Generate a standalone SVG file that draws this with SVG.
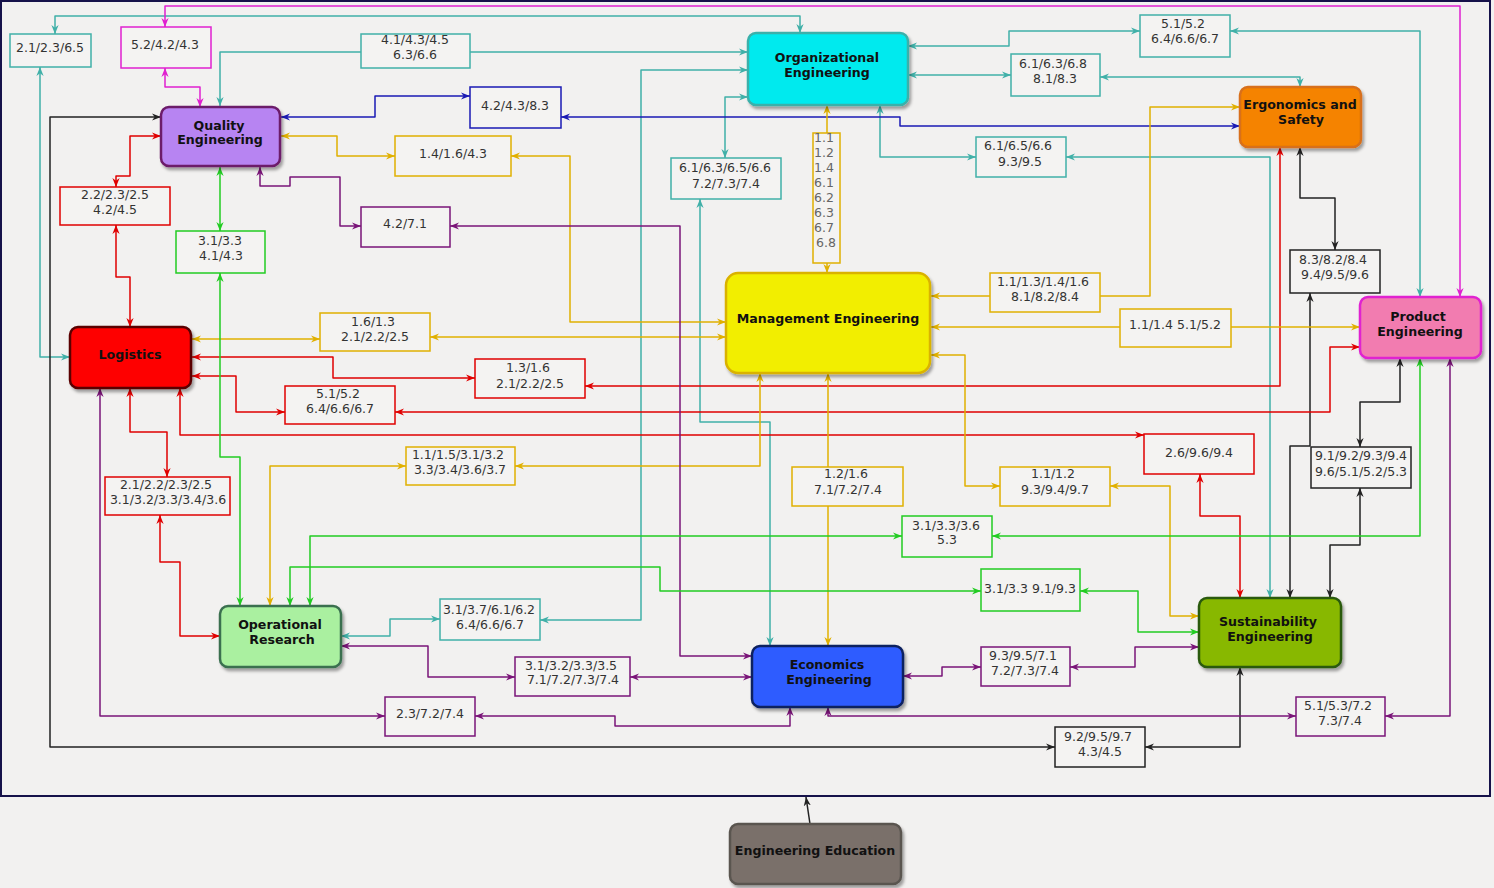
<svg xmlns="http://www.w3.org/2000/svg" width="1494" height="888" viewBox="0 0 1494 888">
<style>
.c{fill:none;stroke-width:1.5;stroke-linejoin:round}
.teal{stroke:#40b0a8;marker-start:url(#m-teal);marker-end:url(#m-teal)}
.mag{stroke:#e020d0;marker-start:url(#m-mag);marker-end:url(#m-mag)}
.navy{stroke:#1a1ab4;marker-start:url(#m-navy);marker-end:url(#m-navy)}
.blk{stroke:#222;marker-start:url(#m-blk);marker-end:url(#m-blk)}
.red{stroke:#e00000;marker-start:url(#m-red);marker-end:url(#m-red)}
.gold{stroke:#e0b000;marker-start:url(#m-gold);marker-end:url(#m-gold)}
.pur{stroke:#7a1478;marker-start:url(#m-pur);marker-end:url(#m-pur)}
.grn{stroke:#22cc22;marker-start:url(#m-grn);marker-end:url(#m-grn)}
.node{stroke-width:2.5;filter:url(#sh)}
.nt{font-family:"DejaVu Sans","Liberation Sans",sans-serif;font-weight:bold;font-size:12.6px;fill:#111;text-anchor:middle}
.lb{fill:#f4f3f2;stroke-width:1.5}
.lt{font-family:"DejaVu Sans","Liberation Sans",sans-serif;font-size:12.5px;fill:#333;text-anchor:middle}
.bt{stroke:#40b0a8}.bm{stroke:#e020d0}.bn{stroke:#1a1ab4}.bk{stroke:#222}.br{stroke:#e00000}.bg{stroke:#e0b000}.bp{stroke:#7a1478}.bgr{stroke:#22cc22}
</style>
<defs>
<filter id="sh" x="-10%" y="-10%" width="130%" height="140%"><feDropShadow dx="2" dy="3" stdDeviation="1.5" flood-color="#000" flood-opacity="0.35"/></filter>
<marker id="m-teal" viewBox="0 0 10 10" refX="10" refY="5" markerWidth="9" markerHeight="9" markerUnits="userSpaceOnUse" orient="auto-start-reverse"><path d="M0,1 L10,5 L0,9 L3,5 z" fill="#40b0a8"/></marker>
<marker id="m-mag" viewBox="0 0 10 10" refX="10" refY="5" markerWidth="9" markerHeight="9" markerUnits="userSpaceOnUse" orient="auto-start-reverse"><path d="M0,1 L10,5 L0,9 L3,5 z" fill="#e020d0"/></marker>
<marker id="m-navy" viewBox="0 0 10 10" refX="10" refY="5" markerWidth="9" markerHeight="9" markerUnits="userSpaceOnUse" orient="auto-start-reverse"><path d="M0,1 L10,5 L0,9 L3,5 z" fill="#1a1ab4"/></marker>
<marker id="m-blk" viewBox="0 0 10 10" refX="10" refY="5" markerWidth="9" markerHeight="9" markerUnits="userSpaceOnUse" orient="auto-start-reverse"><path d="M0,1 L10,5 L0,9 L3,5 z" fill="#222"/></marker>
<marker id="m-red" viewBox="0 0 10 10" refX="10" refY="5" markerWidth="9" markerHeight="9" markerUnits="userSpaceOnUse" orient="auto-start-reverse"><path d="M0,1 L10,5 L0,9 L3,5 z" fill="#e00000"/></marker>
<marker id="m-gold" viewBox="0 0 10 10" refX="10" refY="5" markerWidth="9" markerHeight="9" markerUnits="userSpaceOnUse" orient="auto-start-reverse"><path d="M0,1 L10,5 L0,9 L3,5 z" fill="#e0b000"/></marker>
<marker id="m-pur" viewBox="0 0 10 10" refX="10" refY="5" markerWidth="9" markerHeight="9" markerUnits="userSpaceOnUse" orient="auto-start-reverse"><path d="M0,1 L10,5 L0,9 L3,5 z" fill="#7a1478"/></marker>
<marker id="m-grn" viewBox="0 0 10 10" refX="10" refY="5" markerWidth="9" markerHeight="9" markerUnits="userSpaceOnUse" orient="auto-start-reverse"><path d="M0,1 L10,5 L0,9 L3,5 z" fill="#22cc22"/></marker>
</defs>
<rect x="0" y="0" width="1494" height="888" fill="#f2f1f0"/>
<rect id="frame" x="1" y="1" width="1489" height="795" fill="none" stroke="#16124a" stroke-width="2"/>
<g id="connectors">
<path class="c teal" d="M55,34 L55,16 L800,16 L800,33"/>
<path class="c teal" d="M40,67 L40,357 L70,357"/>
<path class="c teal" d="M220,106 L220,52 L748,52"/>
<path class="c teal" d="M748,70 L641,70 L641,620 L540,620"/>
<path class="c teal" d="M440,619 L390,619 L390,636 L341,636"/>
<path class="c teal" d="M748,97 L725,97 L725,158"/>
<path class="c teal" d="M700,199 L700,422 L770,422 L770,646"/>
<path class="c teal" d="M880,105 L880,157 L976,157"/>
<path class="c teal" d="M1066,157 L1270,157 L1270,598"/>
<path class="c teal" d="M908,46 L1009,46 L1009,31 L1140,31"/>
<path class="c teal" d="M1230,31 L1420,31 L1420,297"/>
<path class="c teal" d="M908,75 L1011,75"/>
<path class="c teal" d="M1100,77 L1300,77 L1300,87"/>
<path class="c mag" d="M165,27 L165,6 L1460,6 L1460,297"/>
<path class="c mag" d="M165,68 L165,87 L200,87 L200,107"/>
<path class="c navy" d="M281,117 L375,117 L375,96 L470,96"/>
<path class="c navy" d="M561,117 L900,117 L900,126 L1240,126"/>
<path class="c blk" d="M161,117 L50,117 L50,747 L1055,747"/>
<path class="c blk" d="M1145,747 L1240,747 L1240,667"/>
<path class="c blk" d="M1300,147 L1300,198 L1335,198 L1335,250"/>
<path class="c blk" d="M1310,293 L1310,446 L1290,446 L1290,598"/>
<path class="c blk" d="M1400,358 L1400,402 L1360,402 L1360,447"/>
<path class="c blk" d="M1360,488 L1360,545 L1330,545 L1330,598"/>
<path class="c" d="M810,824 L806,797" stroke="#222" marker-end="url(#m-blk)"/>
<path class="c red" d="M161,136 L130,136 L130,176 L116,176 L116,187"/>
<path class="c red" d="M116,225 L116,277 L130,277 L130,327"/>
<path class="c red" d="M192,357 L333,357 L333,378 L475,378"/>
<path class="c red" d="M585,386 L1280,386 L1280,147"/>
<path class="c red" d="M192,376 L236,376 L236,412 L285,412"/>
<path class="c red" d="M395,412 L1330,412 L1330,347 L1360,347"/>
<path class="c red" d="M180,388 L180,435 L1144,435"/>
<path class="c red" d="M1200,474 L1200,516 L1240,516 L1240,598"/>
<path class="c red" d="M130,388 L130,432 L167,432 L167,477"/>
<path class="c red" d="M160,515 L160,562 L180,562 L180,636 L220,636"/>
<path class="c gold" d="M281,136 L337,136 L337,156 L395,156"/>
<path class="c gold" d="M511,156 L570,156 L570,322 L726,322"/>
<path class="c gold" d="M827,105 L827,273"/>
<path class="c gold" d="M931,296 L1150,296 L1150,107 L1240,107"/>
<path class="c gold" d="M192,339 L320,339"/>
<path class="c gold" d="M430,337 L726,337"/>
<path class="c gold" d="M760,373 L760,466 L515,466"/>
<path class="c gold" d="M406,466 L270,466 L270,606"/>
<path class="c gold" d="M828,373 L828,646"/>
<path class="c gold" d="M931,355 L965,355 L965,486 L1000,486"/>
<path class="c gold" d="M1110,486 L1170,486 L1170,616 L1199,616"/>
<path class="c gold" d="M931,327 L1360,327"/>
<path class="c pur" d="M260,167 L260,186 L290,186 L290,177 L340,177 L340,226 L361,226"/>
<path class="c pur" d="M450,226 L680,226 L680,656 L752,656"/>
<path class="c pur" d="M1450,358 L1450,716 L1385,716"/>
<path class="c pur" d="M1296,716 L828,716 L828,707"/>
<path class="c pur" d="M903,676 L942,676 L942,667 L981,667"/>
<path class="c pur" d="M1070,667 L1135,667 L1135,647 L1199,647"/>
<path class="c pur" d="M100,388 L100,716 L385,716"/>
<path class="c pur" d="M475,716 L615,716 L615,726 L790,726 L790,707"/>
<path class="c pur" d="M341,646 L428,646 L428,677 L515,677"/>
<path class="c pur" d="M630,677 L752,677"/>
<path class="c grn" d="M220,167 L220,231"/>
<path class="c grn" d="M220,273 L220,457 L240,457 L240,606"/>
<path class="c grn" d="M1420,358 L1420,536 L992,536"/>
<path class="c grn" d="M902,536 L310,536 L310,606"/>
<path class="c grn" d="M290,606 L290,567 L660,567 L660,591 L981,591"/>
<path class="c grn" d="M1080,591 L1138,591 L1138,632 L1199,632"/>
</g>
<g id="labels">
<g id="l1"><rect class="lb bt" x="10" y="34" width="81" height="33"/><text class="lt" x="50" y="51.5">2.1/2.3/6.5</text></g>
<g id="l2"><rect class="lb bm" x="121" y="27" width="90" height="41"/><text class="lt" x="165" y="48.5">5.2/4.2/4.3</text></g>
<g id="l3"><rect class="lb bt" x="361" y="34" width="109" height="34"/><text class="lt" x="415" y="43.5">4.1/4.3/4.5</text><text class="lt" x="415" y="58.5">6.3/6.6</text></g>
<g id="l4"><rect class="lb bn" x="470" y="87" width="91" height="41"/><text class="lt" x="515" y="109.5">4.2/4.3/8.3</text></g>
<g id="l5"><rect class="lb bg" x="395" y="136" width="116" height="40"/><text class="lt" x="453" y="157.5">1.4/1.6/4.3</text></g>
<g id="l6"><rect class="lb bp" x="361" y="207" width="89" height="40"/><text class="lt" x="405" y="227.5">4.2/7.1</text></g>
<g id="l7"><rect class="lb br" x="60" y="187" width="110" height="38"/><text class="lt" x="115" y="198.5">2.2/2.3/2.5</text><text class="lt" x="115" y="213.5">4.2/4.5</text></g>
<g id="l8"><rect class="lb bgr" x="176" y="231" width="89" height="42"/><text class="lt" x="220" y="244.5">3.1/3.3</text><text class="lt" x="221" y="259.5">4.1/4.3</text></g>
<g id="l9"><rect class="lb bt" x="671" y="158" width="110" height="41"/><text class="lt" x="725" y="171.5">6.1/6.3/6.5/6.6</text><text class="lt" x="726" y="187.5">7.2/7.3/7.4</text></g>
<g id="l10"><rect class="lb bg" x="813" y="133" width="27" height="130"/>
<text class="lt" style="text-anchor:start;fill:#666" x="814" y="141.5">1.1</text>
<text class="lt" style="text-anchor:start;fill:#666" x="814" y="156.5">1.2</text>
<text class="lt" style="text-anchor:start;fill:#666" x="814" y="171.5">1.4</text>
<text class="lt" style="text-anchor:start;fill:#666" x="814" y="186.5">6.1</text>
<text class="lt" style="text-anchor:start;fill:#666" x="814" y="201.5">6.2</text>
<text class="lt" style="text-anchor:start;fill:#666" x="814" y="216.5">6.3</text>
<text class="lt" style="text-anchor:start;fill:#666" x="814" y="231.5">6.7</text>
<text class="lt" style="text-anchor:start;fill:#666" x="816" y="246.5">6.8</text></g>
<g id="l11"><rect class="lb bt" x="1140" y="15" width="90" height="42"/><text class="lt" x="1183" y="27.5">5.1/5.2</text><text class="lt" x="1185" y="42.5">6.4/6.6/6.7</text></g>
<g id="l12"><rect class="lb bt" x="1011" y="54" width="89" height="42"/><text class="lt" x="1053" y="67.5">6.1/6.3/6.8</text><text class="lt" x="1055" y="82.5">8.1/8.3</text></g>
<g id="l13"><rect class="lb bt" x="976" y="137" width="90" height="40"/><text class="lt" x="1018" y="149.5">6.1/6.5/6.6</text><text class="lt" x="1020" y="165.5">9.3/9.5</text></g>
<g id="l14"><rect class="lb bk" x="1290" y="250" width="90" height="43"/><text class="lt" x="1333" y="263.5">8.3/8.2/8.4</text><text class="lt" x="1335" y="278.5">9.4/9.5/9.6</text></g>
<g id="l15"><rect class="lb bg" x="990" y="273" width="110" height="39"/><text class="lt" x="1043" y="285.5">1.1/1.3/1.4/1.6</text><text class="lt" x="1045" y="300.5">8.1/8.2/8.4</text></g>
<g id="l16"><rect class="lb bg" x="1120" y="309" width="111" height="38"/><text class="lt" x="1175" y="328.5">1.1/1.4 5.1/5.2</text></g>
<g id="l17"><rect class="lb bg" x="320" y="313" width="110" height="38"/><text class="lt" x="373" y="325.5">1.6/1.3</text><text class="lt" x="375" y="340.5">2.1/2.2/2.5</text></g>
<g id="l18"><rect class="lb br" x="475" y="359" width="110" height="39"/><text class="lt" x="528" y="371.5">1.3/1.6</text><text class="lt" x="530" y="387.5">2.1/2.2/2.5</text></g>
<g id="l19"><rect class="lb br" x="285" y="386" width="110" height="38"/><text class="lt" x="338" y="397.5">5.1/5.2</text><text class="lt" x="340" y="412.5">6.4/6.6/6.7</text></g>
<g id="l20"><rect class="lb br" x="1144" y="434" width="110" height="40"/><text class="lt" x="1199" y="456.5">2.6/9.6/9.4</text></g>
<g id="l21"><rect class="lb bk" x="1311" y="447" width="100" height="41"/><text class="lt" x="1361" y="459.5">9.1/9.2/9.3/9.4</text><text class="lt" x="1361" y="475.5">9.6/5.1/5.2/5.3</text></g>
<g id="l22"><rect class="lb bg" x="406" y="447" width="109" height="38"/><text class="lt" x="458" y="458.5">1.1/1.5/3.1/3.2</text><text class="lt" x="460" y="473.5">3.3/3.4/3.6/3.7</text></g>
<g id="l23"><rect class="lb br" x="105" y="477" width="125" height="38"/><text class="lt" x="166" y="488.5">2.1/2.2/2.3/2.5</text><text class="lt" x="168" y="503.5">3.1/3.2/3.3/3.4/3.6</text></g>
<g id="l24"><rect class="lb bg" x="792" y="467" width="111" height="39"/><text class="lt" x="846" y="477.5">1.2/1.6</text><text class="lt" x="848" y="493.5">7.1/7.2/7.4</text></g>
<g id="l25"><rect class="lb bg" x="1000" y="467" width="110" height="39"/><text class="lt" x="1053" y="477.5">1.1/1.2</text><text class="lt" x="1055" y="493.5">9.3/9.4/9.7</text></g>
<g id="l26"><rect class="lb bgr" x="902" y="516" width="90" height="41"/><text class="lt" x="946" y="529.5">3.1/3.3/3.6</text><text class="lt" x="947" y="543.5">5.3</text></g>
<g id="l27"><rect class="lb bgr" x="981" y="569" width="99" height="42"/><text class="lt" x="1030" y="592.5">3.1/3.3 9.1/9.3</text></g>
<g id="l28"><rect class="lb bt" x="440" y="599" width="100" height="41"/><text class="lt" x="489" y="613.5">3.1/3.7/6.1/6.2</text><text class="lt" x="490" y="628.5">6.4/6.6/6.7</text></g>
<g id="l29"><rect class="lb bp" x="515" y="657" width="115" height="39"/><text class="lt" x="571" y="669.5">3.1/3.2/3.3/3.5</text><text class="lt" x="573" y="683.5">7.1/7.2/7.3/7.4</text></g>
<g id="l30"><rect class="lb bp" x="981" y="647" width="89" height="39"/><text class="lt" x="1023" y="659.5">9.3/9.5/7.1</text><text class="lt" x="1025" y="674.5">7.2/7.3/7.4</text></g>
<g id="l31"><rect class="lb bp" x="385" y="697" width="90" height="39"/><text class="lt" x="430" y="717.5">2.3/7.2/7.4</text></g>
<g id="l32"><rect class="lb bp" x="1296" y="697" width="89" height="39"/><text class="lt" x="1338" y="709.5">5.1/5.3/7.2</text><text class="lt" x="1340" y="724.5">7.3/7.4</text></g>
<g id="l33"><rect class="lb bk" x="1055" y="727" width="90" height="40"/><text class="lt" x="1098" y="740.5">9.2/9.5/9.7</text><text class="lt" x="1100" y="755.5">4.3/4.5</text></g>
</g>
<g id="quality-engineering"><rect class="node" x="161" y="107" width="119" height="59" rx="8" fill="#b784f2" stroke="#6c1a6a"/><text class="nt" x="219" y="130">Quality</text><text class="nt" x="220" y="144">Engineering</text></g>
<g id="organizational-engineering"><rect class="node" x="748" y="33" width="160" height="72" rx="8" fill="#00eaee" stroke="#3ab0aa"/><text class="nt" x="827" y="61.5">Organizational</text><text class="nt" x="827" y="76.5">Engineering</text></g>
<g id="ergonomics-safety"><rect class="node" x="1240" y="87" width="121" height="60" rx="8" fill="#f58300" stroke="#d8701a"/><text class="nt" x="1300" y="108.5">Ergonomics and</text><text class="nt" x="1301" y="123.5">Safety</text></g>
<g id="logistics"><rect class="node" x="70" y="327" width="121" height="61" rx="8" fill="#fe0000" stroke="#5a0000"/><text class="nt" x="130" y="359">Logistics</text></g>
<g id="management-engineering"><rect class="node" x="726" y="273" width="204" height="100" rx="12" fill="#f2ee00" stroke="#dab200"/><text class="nt" x="828" y="323">Management Engineering</text></g>
<g id="product-engineering"><rect class="node" x="1360" y="297" width="121" height="61" rx="8" fill="#f27cb0" stroke="#e020d0"/><text class="nt" x="1418" y="320.5">Product</text><text class="nt" x="1420" y="335.5">Engineering</text></g>
<g id="operational-research"><rect class="node" x="220" y="606" width="121" height="61" rx="8" fill="#aaf0a0" stroke="#3a7050"/><text class="nt" x="280" y="628.5">Operational</text><text class="nt" x="282" y="643.5">Research</text></g>
<g id="economics-engineering"><rect class="node" x="752" y="646" width="151" height="61" rx="8" fill="#2e5cff" stroke="#102060"/><text class="nt" x="827" y="668.5">Economics</text><text class="nt" x="829" y="683.5">Engineering</text></g>
<g id="sustainability-engineering"><rect class="node" x="1199" y="598" width="142" height="69" rx="8" fill="#88b800" stroke="#2a5a10"/><text class="nt" x="1268" y="625.5">Sustainability</text><text class="nt" x="1270" y="640.5">Engineering</text></g>
<g id="engineering-education"><rect class="node" x="730" y="824" width="171" height="60" rx="8" fill="#7a706b" stroke="#5a5550"/><text class="nt" x="815" y="854.5">Engineering Education</text></g>
</svg>
